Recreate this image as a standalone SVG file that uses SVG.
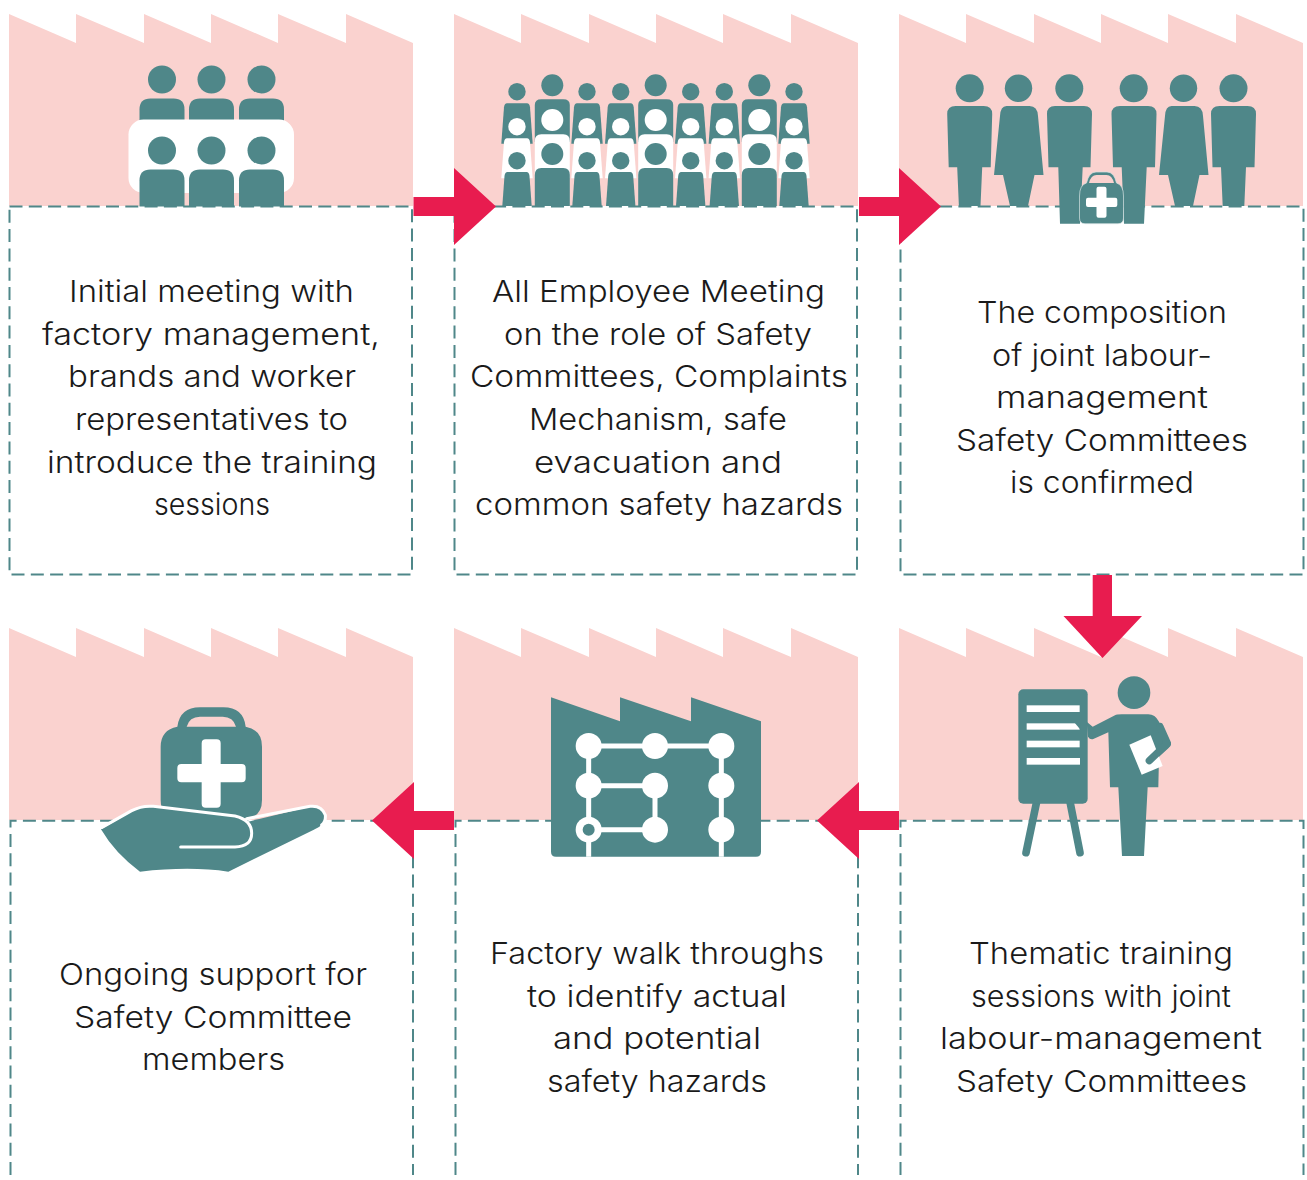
<svg xmlns="http://www.w3.org/2000/svg" width="1307" height="1180" viewBox="0 0 1307 1180">
<style>
.pink{fill:#fad2cf}
.teal{fill:#4f8789}
.white{fill:#fff}
.red{fill:#e81c4f}
.dash{fill:none;stroke:#4f8789;stroke-width:2;stroke-dasharray:13 6.3}
text{font-family:"Inter","Lato","Liberation Sans",sans-serif;font-size:30px;font-weight:300;fill:#1a1a1a;font-variant-ligatures:none}
</style>
<defs>
<path id="roof" d="M0 0L67 29V0L135 29V0L202 29V0L269 29V0L337 29V0L404 29V192H0Z"/>
<g id="u1"><circle cx="22.500" cy="14" r="14"/><path d="M0 70V44Q0 33 11 33H34Q45 33 45 44V70Z"/></g>
<g id="small">
<circle cy="91.700" r="8.700" class="teal"/>
<path transform="translate(0,103.300)" class="teal" d="M-10 0H10Q12.500 0 13 4L15.700 40.500H-15.700L-13 4Q-12.500 0-10 0Z"/>
<path transform="translate(0,138.300)" class="white" d="M-10 0H10Q12.500 0 13 4L15.700 40H-15.700L-13 4Q-12.500 0-10 0Z"/>
<circle cy="126.700" r="8.700" class="white"/>
<circle cy="160.700" r="8.700" class="teal"/>
<path transform="translate(0,172)" class="teal" d="M-9.500 0H9.500Q12 0 12.500 4L14.700 34H-14.700L-12.500 4Q-12 0-9.500 0Z"/>
</g>
<g id="large">
<circle cy="85.300" r="11" class="teal"/>
<path class="teal" d="M-17.500 142V105Q-17.500 99.300-11 99.300H11Q17.500 99.300 17.500 105V142Z"/>
<path class="white" d="M-17.500 178V141Q-17.500 134.300-11 134.300H11Q17.500 134.300 17.500 141V178Z"/>
<circle cy="120" r="11" class="white"/>
<circle cy="154" r="11" class="teal"/>
<path class="teal" d="M-17.500 206V175Q-17.500 168-11 168H11Q17.500 168 17.500 175V206Z"/>
</g>
<g id="man" class="teal">
<circle cy="88.300" r="14"/>
<path d="M-22.500 114Q-22.500 106-14 106H14Q22.500 106 22.500 114L21 167.300H12.500L10.800 206H-10.800L-12.500 167.300H-21Z"/>
</g>
<g id="woman" class="teal">
<circle cy="88.300" r="13.700"/>
<path d="M-12 106H11Q19 106 19.500 116L25 175H16L9.500 206H-8.500L-15.500 175H-24.500L-18.500 116Q-18 106-12 106Z"/>
</g>
</defs>

<g id="step-1">
<use href="#roof" x="9" y="14" class="pink"/>
<rect class="dash" x="9.500" y="206.500" width="402.500" height="368"/>
<g class="teal">
<use href="#u1" x="139.500" y="65.500"/><use href="#u1" x="189" y="65.500"/><use href="#u1" x="239" y="65.500"/>
</g>
<rect class="white" x="128.500" y="119.500" width="165.500" height="73.500" rx="15"/>
<g class="teal">
<use href="#u1" x="139.500" y="136.500"/><use href="#u1" x="189" y="136.500"/><use href="#u1" x="239" y="136.500"/>
</g>
<text x="69" y="302" textLength="285" lengthAdjust="spacingAndGlyphs">Initial meeting with</text>
<text x="42" y="345" textLength="338" lengthAdjust="spacingAndGlyphs">factory management,</text>
<text x="68" y="387" textLength="288" lengthAdjust="spacingAndGlyphs">brands and worker</text>
<text x="75" y="430" textLength="273" lengthAdjust="spacingAndGlyphs">representatives to</text>
<text x="47" y="473" textLength="330" lengthAdjust="spacingAndGlyphs">introduce the training</text>
<text x="154" y="515" textLength="116" lengthAdjust="spacingAndGlyphs">sessions</text>
</g>

<g id="step-2">
<use href="#roof" x="454" y="14" class="pink"/>
<rect class="dash" x="454.500" y="206.500" width="402.500" height="368"/>
<use href="#small" x="517"/><use href="#large" x="552.300"/><use href="#small" x="587"/><use href="#small" x="620.700"/><use href="#large" x="655.700"/><use href="#small" x="690.700"/><use href="#small" x="724.300"/><use href="#large" x="759.300"/><use href="#small" x="794"/>
<text x="492" y="302" textLength="333" lengthAdjust="spacingAndGlyphs">All Employee Meeting</text>
<text x="504" y="345" textLength="308" lengthAdjust="spacingAndGlyphs">on the role of Safety</text>
<text x="470" y="387" textLength="378" lengthAdjust="spacingAndGlyphs">Committees, Complaints</text>
<text x="529" y="430" textLength="258" lengthAdjust="spacingAndGlyphs">Mechanism, safe</text>
<text x="534" y="473" textLength="248" lengthAdjust="spacingAndGlyphs">evacuation and</text>
<text x="475" y="515" textLength="368" lengthAdjust="spacingAndGlyphs">common safety hazards</text>
</g>

<g id="step-3">
<use href="#roof" x="899" y="14" class="pink"/>
<rect class="dash" x="900.500" y="206.500" width="403" height="368"/>
<use href="#man" x="969.700"/><use href="#woman" x="1018.500"/><use href="#woman" x="1183.500"/><use href="#man" x="1233.500"/>
<g class="teal">
<circle cx="1069.300" cy="88.300" r="14"/>
<path d="M1047 114Q1047 106 1055 106H1084Q1092 106 1092 114L1090.500 167.300H1082.700L1080 223.700H1060L1058.300 167.300H1048.500Z"/>
<circle cx="1133.700" cy="88.300" r="14"/>
<path d="M1111.500 114Q1111.500 106 1120 106H1148Q1156.500 106 1156.500 114L1155 167.300H1146.700L1144 223.700H1124L1121.700 167.300H1113Z"/>
</g>
<g>
<path d="M1079.500 196Q1079.500 185 1086.500 183Q1089 172 1096 172H1107Q1114 172 1116.500 183Q1123.500 185 1123.500 196V218Q1123.500 223.700 1118 223.700H1085Q1079.500 223.700 1079.500 218Z" class="teal" stroke="#d5e3e3" stroke-width=".7"/>
<path d="M1089 183Q1091 175 1096.500 175H1106.500Q1112 175 1114 183Z" class="pink"/>
<path d="M1096.500 188.700Q1096.500 186.700 1098.500 186.700H1104.500Q1106.500 186.700 1106.500 188.700V197.700H1115.300Q1117.300 197.700 1117.300 199.700V205Q1117.300 207 1115.300 207H1106.500V215.700Q1106.500 217.700 1104.500 217.700H1098.500Q1096.500 217.700 1096.500 215.700V207H1088Q1086 207 1086 205V199.700Q1086 197.700 1088 197.700H1096.500Z" class="white"/>
</g>
<text x="977" y="323" textLength="250" lengthAdjust="spacingAndGlyphs">The composition</text>
<text x="992" y="366" textLength="220" lengthAdjust="spacingAndGlyphs">of joint labour-</text>
<text x="996" y="408" textLength="212" lengthAdjust="spacingAndGlyphs">management</text>
<text x="956" y="451" textLength="292" lengthAdjust="spacingAndGlyphs">Safety Committees</text>
<text x="1010" y="493" textLength="184" lengthAdjust="spacingAndGlyphs">is confirmed</text>
</g>

<g id="step-4">
<use href="#roof" x="9" y="628" class="pink"/>
<path class="dash" d="M10.500 1175V820.700H413V1175"/>
<g transform="translate(90,690) scale(.33333)">
<path class="teal" d="M212 170Q212 120 262 110Q270 52 330 52H400Q460 52 467 110Q516 120 516 170V330Q516 385 460 385H268Q212 385 212 330Z"/>
<path class="pink" d="M290 110Q298 80 330 80H398Q430 80 438 110Z"/>
<path class="white" d="M335 160Q335 148 347 148H380Q392 148 392 160V222H455Q467 222 467 234V265Q467 277 455 277H392V341Q392 353 380 353H347Q335 353 335 341V277H274Q262 277 262 265V234Q262 222 274 222H335Z"/>
<path class="teal" d="M33 418L130 362Q160 348 190 350L440 380Q465 385 475 395L660 350Q700 345 706 380Q706 405 670 420L415 545Q300 528 150 545Q75 490 33 418Z"/>
<path fill="none" stroke="#fff" stroke-width="9" stroke-linecap="round" d="M36 412L125 362Q155 346 190 349L435 378Q485 390 485 430Q485 470 435 471H272"/>
<path fill="none" stroke="#fff" stroke-width="9" stroke-linecap="round" d="M470 386L660 349Q695 345 706 375Q708 395 695 405"/>
</g>
<text x="59" y="985" textLength="308" lengthAdjust="spacingAndGlyphs">Ongoing support for</text>
<text x="74" y="1028" textLength="278" lengthAdjust="spacingAndGlyphs">Safety Committee</text>
<text x="142" y="1070" textLength="143" lengthAdjust="spacingAndGlyphs">members</text>
</g>

<g id="step-5">
<use href="#roof" x="454" y="628" class="pink"/>
<path class="dash" d="M455.500 1175V820.700H858V1175"/>
<g transform="translate(530,680) scale(.33333)">
<path class="teal" d="M63 52L270 124V52L483 124V52L693 124V515Q693 530 678 530H78Q63 530 63 515Z"/>
<path fill="none" stroke="#fff" stroke-width="15" d="M176 530V198H574V530M176 317H375V449H176"/>
<g class="white">
<circle cx="176" cy="198" r="39"/><circle cx="375" cy="198" r="39"/><circle cx="574" cy="198" r="39"/>
<circle cx="176" cy="317" r="39"/><circle cx="375" cy="317" r="39"/><circle cx="574" cy="317" r="39"/>
<circle cx="176" cy="449" r="39"/><circle cx="375" cy="449" r="39"/><circle cx="574" cy="449" r="39"/>
</g>
<circle class="teal" cx="176" cy="449" r="18"/>
</g>
<text x="490" y="964" textLength="334" lengthAdjust="spacingAndGlyphs">Factory walk throughs</text>
<text x="527" y="1007" textLength="260" lengthAdjust="spacingAndGlyphs">to identify actual</text>
<text x="553" y="1049" textLength="208" lengthAdjust="spacingAndGlyphs">and potential</text>
<text x="547" y="1092" textLength="220" lengthAdjust="spacingAndGlyphs">safety hazards</text>
</g>

<g id="step-6">
<use href="#roof" x="899" y="628" class="pink"/>
<path class="dash" d="M900.500 1175V820.700H1303.500V1175"/>
<g transform="translate(990,570) scale(.33333)">
<g stroke="#4f8789" stroke-width="23" stroke-linecap="round"><path d="M140 695L108 848M240 695L270 848"/></g>
<rect class="teal" x="85" y="358" width="208" height="343" rx="15"/>
<g class="white">
<rect x="110" y="406" width="159" height="20"/><rect x="110" y="460" width="159" height="19"/><rect x="110" y="512" width="159" height="20"/><rect x="110" y="564" width="160" height="20"/>
</g>
<path class="teal" d="M254 458L272 459L272 480Z"/>
<circle class="teal" cx="432" cy="368" r="49"/>
<path class="teal" d="M290 455L308 470L375 436Q380 433 395 433H475Q495 433 507 455L542 518Q546 528 535 535L507 560L505 652H473L462 858H396L385 652H360L355 487L310 507Q300 510 294 500Z"/>
<path class="white" d="M418 524L482 496L518 588L455 614Z"/>
<path fill="none" stroke="#4f8789" stroke-width="22" stroke-linecap="round" stroke-linejoin="round" d="M510 470L532 520L478 572"/>
</g>
<text x="969" y="964" textLength="264" lengthAdjust="spacingAndGlyphs">Thematic training</text>
<text x="971" y="1007" textLength="260" lengthAdjust="spacingAndGlyphs">sessions with joint</text>
<text x="940" y="1049" textLength="322" lengthAdjust="spacingAndGlyphs">labour-management</text>
<text x="956" y="1092" textLength="291" lengthAdjust="spacingAndGlyphs">Safety Committees</text>
</g>

<g id="connectors" class="red">
<path d="M413.500 197H454V168L496 206.500L454 245V216H413.500Z"/>
<path d="M859 197H899V168L941 206.500L899 245V216H859Z"/>
<path d="M1092.700 575H1112V616H1142L1102.500 658L1063.500 616H1092.700Z"/>
<path d="M899 811H859V782L817 820.500L859 859V830H899Z"/>
<path d="M454 811H414V782L372 820.500L414 859V830H454Z"/>
</g>
</svg>
